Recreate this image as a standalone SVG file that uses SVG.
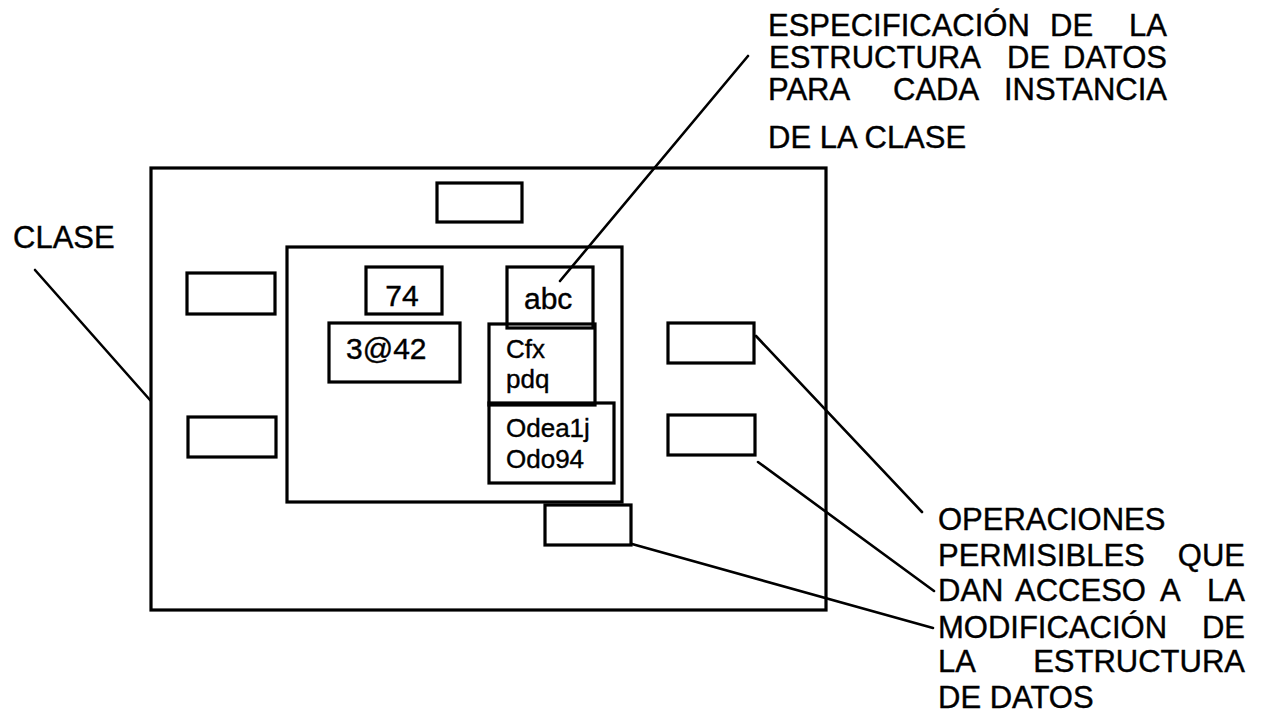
<svg xmlns="http://www.w3.org/2000/svg" width="1266" height="726" viewBox="0 0 1266 726">
<style>
.box{fill:none;stroke:#000;stroke-width:3.2}
.ld{fill:none;stroke:#000;stroke-width:2.6;stroke-linecap:round}
text{font-family:"Liberation Sans",Arial,sans-serif;fill:#000;stroke:#000;stroke-width:0.4}
.lbl{font-size:31px}
.big{font-size:30px}
.sm{font-size:26px}
</style>
<rect width="1266" height="726" fill="#fff"/>
<g id="clase">
<rect class="box" x="151" y="168" width="675" height="442"/>
</g>
<g id="op-top"><rect class="box" x="437" y="183" width="85" height="39"/></g>
<g id="op-left1"><rect class="box" x="187" y="273" width="88" height="41"/></g>
<g id="op-left2"><rect class="box" x="188" y="417" width="88" height="40"/></g>
<g id="op-right1"><rect class="box" x="668" y="323" width="86" height="40"/></g>
<g id="op-right2"><rect class="box" x="668" y="415" width="87" height="40"/></g>
<g id="op-bottom"><rect class="box" x="545" y="505" width="86" height="40"/></g>
<g id="instancia">
<rect class="box" x="287" y="247" width="335" height="255"/>
</g>
<g id="d74"><rect class="box" x="366" y="267" width="76" height="47"/><text class="big" x="402" y="306" text-anchor="middle">74</text></g>
<g id="d342"><rect class="box" x="329" y="323" width="131" height="59"/><text class="big" x="346" y="359">3@42</text></g>
<g id="dabc"><rect class="box" x="507" y="267" width="86" height="61"/><text class="big" x="524" y="309">abc</text></g>
<g id="dcfx"><rect class="box" x="489" y="324" width="106" height="81"/><text class="sm" x="506" y="358">Cfx</text><text class="sm" x="506" y="388">pdq</text></g>
<g id="dodea"><rect class="box" x="489" y="403" width="125" height="80"/><text class="sm" x="506" y="437">Odea1j</text><text class="sm" x="506" y="468">Odo94</text></g>
<g id="connectors">
<line class="ld" x1="35" y1="270" x2="150" y2="400"/>
<line class="ld" x1="560" y1="281" x2="748" y2="56"/>
<line class="ld" x1="756" y1="336" x2="922" y2="512"/>
<line class="ld" x1="758" y1="462" x2="934" y2="591"/>
<line class="ld" x1="632" y1="544" x2="933" y2="628"/>
</g>
<g id="label-clase"><text class="lbl" x="13" y="248">CLASE</text></g>
<g id="label-estructura">
<text class="lbl" x="768" y="36">ESPECIFICACIÓN</text><text class="lbl" x="1050" y="36">DE</text><text class="lbl" x="1167" y="36" text-anchor="end">LA</text>
<text class="lbl" x="769" y="68">ESTRUCTURA</text><text class="lbl" x="1007" y="68">DE</text><text class="lbl" x="1167" y="68" text-anchor="end">DATOS</text>
<text class="lbl" x="768" y="100">PARA</text><text class="lbl" x="893" y="100">CADA</text><text class="lbl" x="1167" y="100" text-anchor="end">INSTANCIA</text>
<text class="lbl" x="768" y="148">DE LA CLASE</text>
</g>
<g id="label-operaciones">
<text class="lbl" x="938" y="530">OPERACIONES</text>
<text class="lbl" x="938" y="566">PERMISIBLES</text><text class="lbl" x="1245" y="566" text-anchor="end">QUE</text>
<text class="lbl" x="938" y="601">DAN</text><text class="lbl" x="1015" y="601">ACCESO</text><text class="lbl" x="1160" y="601">A</text><text class="lbl" x="1245" y="601" text-anchor="end">LA</text>
<text class="lbl" x="938" y="638">MODIFICACIÓN</text><text class="lbl" x="1245" y="638" text-anchor="end">DE</text>
<text class="lbl" x="938" y="672">LA</text><text class="lbl" x="1245" y="672" text-anchor="end">ESTRUCTURA</text>
<text class="lbl" x="938" y="708">DE DATOS</text>
</g>
</svg>
